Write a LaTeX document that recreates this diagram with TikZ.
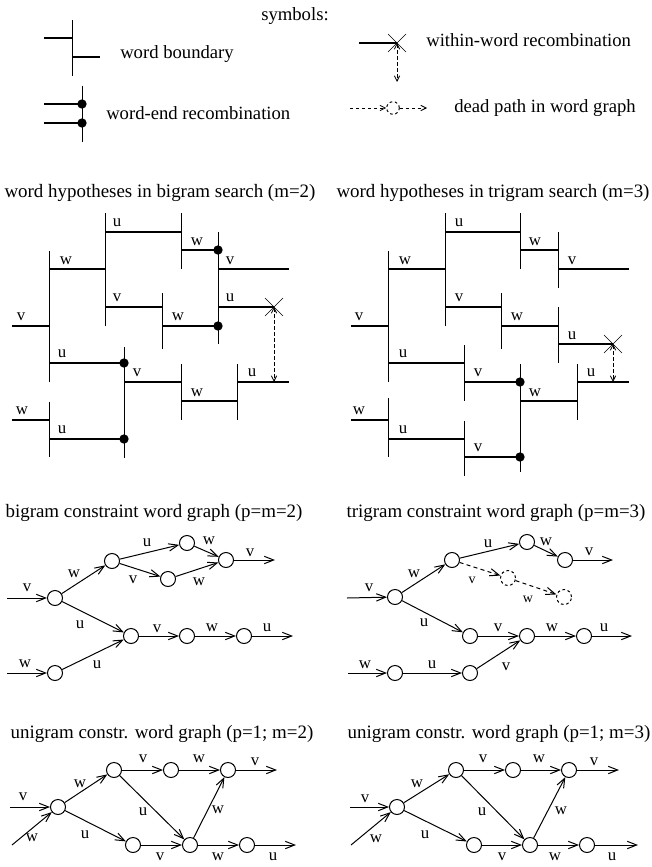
\documentclass[tikz,border=0pt]{standalone}
\usepackage{fontspec}
\setmainfont{Liberation Serif}
\usetikzlibrary{arrows.meta}
\begin{document}
\begin{tikzpicture}[x=0.75pt,y=-0.75pt,
  hl/.style={line width=1.3pt},
  vl/.style={line width=0.75pt},
  lab/.style={font=\fontsize{12.6}{14}\selectfont, inner sep=0pt},
  slab/.style={font=\fontsize{10.5}{12}\selectfont, inner sep=0pt},
  ttl/.style={font=\fontsize{14.2}{17}\selectfont, inner sep=0pt, anchor=base},
  sym/.style={font=\fontsize{14}{17}\selectfont, inner sep=0pt, anchor=base west},
  dot/.style={circle, fill=black, inner sep=0pt, minimum size=7pt},
  st/.style={circle, draw, line width=0.75pt, inner sep=0pt, minimum size=11.25pt},
  dst/.style={st, dashed, dash pattern=on 2pt off 2pt},
  ed/.style={line width=0.75pt, -{Straight Barb[length=7pt,width=5.5pt]}},
  ded/.style={ed, dashed, dash pattern=on 3pt off 2.5pt},
  dar/.style={line width=0.6pt, dash pattern=on 2.5pt off 2pt, -{Straight Barb[length=4pt,width=4pt]}},
  dar2/.style={dar, {Straight Barb[length=4pt,width=4pt]}-{Straight Barb[length=4pt,width=4pt]}},
  xm/.style={line width=0.5pt},
]
\useasboundingbox (0,0) rectangle (652,867);

% ---------------- symbols ----------------
\node[sym, anchor=base] (symt) at (295,21) {symbols:};
\draw[hl] (44,38) -- (72,38);
\draw[vl] (72,20) -- (72,76);
\draw[hl] (72,57) -- (100,57);
\node[sym] (t1) at (120,59) {word boundary};

\draw[hl] (44,104) -- (82,104);
\draw[hl] (44,123) -- (82,123);
\draw[vl] (82,86) -- (82,142);
\node[dot] (sd1) at (82,104) {};
\node[dot] (sd2) at (82,123) {};
\node[sym] (t2) at (106,119) {word-end recombination};

\coordinate (sx) at (397,43);
\draw[hl] (359,43) -- (sx);
\draw[xm] (388,34) -- (406,52) (388,52) -- (406,34);
\coordinate (sxe) at (397,82);
\draw[dar2] (sx) -- (sxe);
\node[sym] (t3) at (426,47) {within-word recombination};

\node[dst, minimum size=9.5pt] (sdc) at (393,108) {};
\coordinate (sds) at (350,108);
\coordinate (sde) at (427,108);
\draw[dar] (sds) -- (sdc);
\draw[dar] (sdc) -- (sde);
\node[sym] (t4) at (454,113) {dead path in word graph};

% ---------------- bigram search ----------------
\node[ttl] (tb) at (160,197) {word hypotheses in bigram search (m=2)};
\draw[hl] (12,326) -- (49,326);   \node[lab] at (21,317) {v};
\draw[vl] (49,251) -- (49,382);
\draw[hl] (49,269) -- (105,269);  \node[lab] at (66,261) {w};
\draw[hl] (49,363) -- (124,363);  \node[lab] at (62,354) {u};
\draw[vl] (105,213) -- (105,326);
\draw[hl] (105,232) -- (181,232); \node[lab] at (117,223) {u};
\draw[hl] (105,307) -- (162,307); \node[lab] at (117,298) {v};
\draw[vl] (181,213) -- (181,269);
\draw[hl] (181,250) -- (218,250); \node[lab] at (197,242) {w};
\draw[vl] (162,293) -- (162,349);
\draw[hl] (162,326) -- (218,326); \node[lab] at (178,317) {w};
\draw[vl] (218,232) -- (218,344);
\draw[hl] (218,269) -- (289,269); \node[lab] at (230,261) {v};
\draw[hl] (218,307) -- (274,307); \node[lab] at (230,298) {u};
\draw[xm] (265,298) -- (283,316) (265,316) -- (283,298);
\coordinate (bx) at (274,307);
\coordinate (bxe) at (274,382);
\draw[dar2] (bx) -- (bxe);
\draw[vl] (124,347) -- (124,458);
\draw[hl] (124,382) -- (181,382); \node[lab] at (137,373) {v};
\draw[vl] (181,364) -- (181,420);
\draw[hl] (181,401) -- (237,401); \node[lab] at (197,393) {w};
\draw[vl] (237,364) -- (237,420);
\draw[hl] (237,382) -- (289,382); \node[lab] at (252,373) {u};
\draw[hl] (12,420) -- (49,420);   \node[lab] at (22,411) {w};
\draw[vl] (49,402) -- (49,457);
\draw[hl] (49,439) -- (124,439);  \node[lab] at (62,430) {u};
\node[dot] at (124,363) {};
\node[dot] at (218,250) {};
\node[dot] at (218,326) {};
\node[dot] at (124,439) {};

% ---------------- trigram search ----------------
\node[ttl] (tt) at (493,197) {word hypotheses in trigram search (m=3)};
\draw[hl] (351,326) -- (388,326); \node[lab] at (359,317) {v};
\draw[vl] (388,251) -- (388,382);
\draw[hl] (388,269) -- (445,269); \node[lab] at (405,261) {w};
\draw[vl] (445,213) -- (445,326);
\draw[hl] (445,232) -- (520,232); \node[lab] at (459,223) {u};
\draw[vl] (520,213) -- (520,269);
\draw[hl] (520,250) -- (558,250); \node[lab] at (535,242) {w};
\draw[vl] (558,232) -- (558,288);
\draw[hl] (558,269) -- (629,269); \node[lab] at (572,261) {v};
\draw[hl] (445,307) -- (501,307); \node[lab] at (459,298) {v};
\draw[vl] (501,293) -- (501,349);
\draw[hl] (501,326) -- (558,326); \node[lab] at (517,317) {w};
\draw[vl] (558,307) -- (558,363);
\draw[hl] (558,344) -- (613,344); \node[lab] at (572,336) {u};
\draw[xm] (604,335) -- (622,353) (604,353) -- (622,335);
\coordinate (tx) at (613,344);
\coordinate (txe) at (613,382);
\draw[dar2] (tx) -- (txe);
\draw[hl] (388,363) -- (464,363); \node[lab] at (403,354) {u};
\draw[vl] (464,345) -- (464,401);
\draw[hl] (464,382) -- (520,382); \node[lab] at (478,373) {v};
\draw[vl] (520,364) -- (520,472);
\draw[hl] (520,401) -- (577,401); \node[lab] at (535,393) {w};
\draw[vl] (577,364) -- (577,420);
\draw[hl] (577,382) -- (629,382); \node[lab] at (591,373) {u};
\draw[hl] (351,420) -- (388,420); \node[lab] at (359,411) {w};
\draw[vl] (388,398) -- (388,457);
\draw[hl] (388,439) -- (464,439); \node[lab] at (403,430) {u};
\draw[vl] (464,421) -- (464,476);
\draw[hl] (464,457) -- (520,457); \node[lab] at (478,448) {v};
\node[dot] at (520,382) {};
\node[dot] at (520,457) {};

% ---------------- bigram graph ----------------
\node[ttl] (tbg) at (154,517) {bigram constraint word graph (p=m=2)};
\node[st] (n1) at (55,598) {};
\node[st] (n2) at (112,561) {};
\node[st] (n3) at (187,543) {};
\node[st] (n4) at (168,579) {};
\node[st] (n5) at (226,560) {};
\node[st] (n6) at (131,636) {};
\node[st] (n7) at (187,636) {};
\node[st] (n8) at (244,636) {};
\node[st] (n9) at (55,673) {};
\coordinate (nv) at (7,598);
\coordinate (nw) at (7,673);
\coordinate (no1) at (275,560);
\coordinate (no2) at (293,636);
\draw[ed] (nv) -- (n1);  \node[lab] at (27,588) {v};
\draw[ed] (nw) -- (n9);  \node[lab] at (25,664) {w};
\draw[ed] (n1) -- (n2);  \node[lab] at (74,574) {w};
\draw[ed] (n1) -- (n6);  \node[lab] at (80,625) {u};
\draw[ed] (n9) -- (n6);  \node[lab] at (97,665) {u};
\draw[ed] (n2) -- (n3);  \node[lab] at (147,543) {u};
\draw[ed] (n2) -- (n4);  \node[lab] at (133,580) {v};
\draw[ed] (n3) -- (n5);  \node[lab] at (209,541) {w};
\draw[ed] (n4) -- (n5);  \node[lab] at (199,582) {w};
\draw[ed] (n5) -- (no1); \node[lab] at (250,553) {v};
\draw[ed] (n6) -- (n7);  \node[lab] at (157,629) {v};
\draw[ed] (n7) -- (n8);  \node[lab] at (212,628) {w};
\draw[ed] (n8) -- (no2); \node[lab] at (267,628) {u};

% ---------------- trigram graph ----------------
\node[ttl] (ttg) at (496,517) {trigram constraint word graph (p=m=3)};
\node[st] (m1) at (395,597) {};
\node[st] (m2) at (452,560) {};
\node[st] (m3) at (527,542) {};
\node[st] (m4) at (565,560) {};
\node[dst] (d1) at (508,578) {};
\node[dst] (d2) at (564,597) {};
\node[st] (m5) at (470,636) {};
\node[st] (m6) at (527,636) {};
\node[st] (m7) at (584,636) {};
\node[st] (m8) at (395,673) {};
\node[st] (m9) at (470,673) {};
\coordinate (mv) at (347,598);
\coordinate (mw) at (348,673);
\coordinate (mo1) at (613,560);
\coordinate (mo2) at (632,636);
\draw[ed] (mv) -- (m1);  \node[lab] at (369,588) {v};
\draw[ed] (mw) -- (m8);  \node[lab] at (365,665) {w};
\draw[ed] (m1) -- (m2);  \node[lab] at (414,574) {w};
\draw[ed] (m1) -- (m5);  \node[lab] at (424,623) {u};
\draw[ed] (m2) -- (m3);  \node[lab] at (488,544) {u};
\draw[ed] (m3) -- (m4);  \node[lab] at (546,542) {w};
\draw[ed] (m4) -- (mo1); \node[lab] at (589,552) {v};
\draw[ded] (m2) -- (d1); \node[slab] at (472,580) {v};
\draw[ded] (d1) -- (d2); \node[slab] at (528,599) {w};
\draw[ed] (m5) -- (m6);  \node[lab] at (498,628) {v};
\draw[ed] (m6) -- (m7);  \node[lab] at (552,628) {w};
\draw[ed] (m7) -- (mo2); \node[lab] at (604,628) {u};
\draw[ed] (m8) -- (m9);  \node[lab] at (432,665) {u};
\draw[ed] (m9) -- (m6);  \node[lab] at (506,667) {v};

% ---------------- unigram graph m=2 ----------------
\node[ttl] (tu2) at (162,738) {unigram constr. word graph (p=1; m=2)};
\node[st] (a1) at (58,807) {};
\node[st] (a2) at (114,770) {};
\node[st] (a3) at (171,770) {};
\node[st] (a4) at (228,770) {};
\node[st] (a5) at (133,845) {};
\node[st] (a6) at (190,845) {};
\node[st] (a7) at (247,845) {};
\coordinate (av) at (10,807);
\coordinate (aw) at (12,845);
\coordinate (ao1) at (277,770);
\coordinate (ao2) at (296,845);
\draw[ed] (av) -- (a1);  \node[lab] at (23,797) {v};
\draw[ed] (aw) -- (a1);  \node[lab] at (32,838) {w};
\draw[ed] (a1) -- (a2);  \node[lab] at (80,784) {w};
\draw[ed] (a1) -- (a5);  \node[lab] at (85,835) {u};
\draw[ed] (a2) -- (a3);  \node[lab] at (143,759) {v};
\draw[ed] (a3) -- (a4);  \node[lab] at (199,759) {w};
\draw[ed] (a4) -- (ao1); \node[lab] at (255,762) {v};
\draw[ed] (a2) -- (a6);  \node[lab] at (143,812) {u};
\draw[ed] (a6) -- (a4);  \node[lab] at (218,810) {w};
\draw[ed] (a5) -- (a6);  \node[lab] at (160,857) {v};
\draw[ed] (a6) -- (a7);  \node[lab] at (218,857) {w};
\draw[ed] (a7) -- (ao2); \node[lab] at (273,857) {u};

% ---------------- unigram graph m=3 ----------------
\node[ttl] (tu3) at (499,738) {unigram constr. word graph (p=1; m=3)};
\node[st] (b1) at (397,807) {};
\node[st] (b2) at (456,770) {};
\node[st] (b3) at (513,770) {};
\node[st] (b4) at (569,770) {};
\node[st] (b5) at (474,845) {};
\node[st] (b6) at (530,845) {};
\node[st] (b7) at (587,845) {};
\coordinate (bv) at (350,807);
\coordinate (bw) at (351,845);
\coordinate (bo1) at (619,770);
\coordinate (bo2) at (638,845);
\draw[ed] (bv) -- (b1);  \node[lab] at (365,799) {v};
\draw[ed] (bw) -- (b1);  \node[lab] at (376,839) {w};
\draw[ed] (b1) -- (b2);  \node[lab] at (417,784) {w};
\draw[ed] (b1) -- (b5);  \node[lab] at (425,835) {u};
\draw[ed] (b2) -- (b3);  \node[lab] at (483,759) {v};
\draw[ed] (b3) -- (b4);  \node[lab] at (539,759) {w};
\draw[ed] (b4) -- (bo1); \node[lab] at (594,762) {v};
\draw[ed] (b2) -- (b6);  \node[lab] at (482,812) {u};
\draw[ed] (b6) -- (b4);  \node[lab] at (561,811) {w};
\draw[ed] (b5) -- (b6);  \node[lab] at (502,857) {v};
\draw[ed] (b6) -- (b7);  \node[lab] at (555,857) {w};
\draw[ed] (b7) -- (bo2); \node[lab] at (612,857) {u};
\end{tikzpicture}
\end{document}
